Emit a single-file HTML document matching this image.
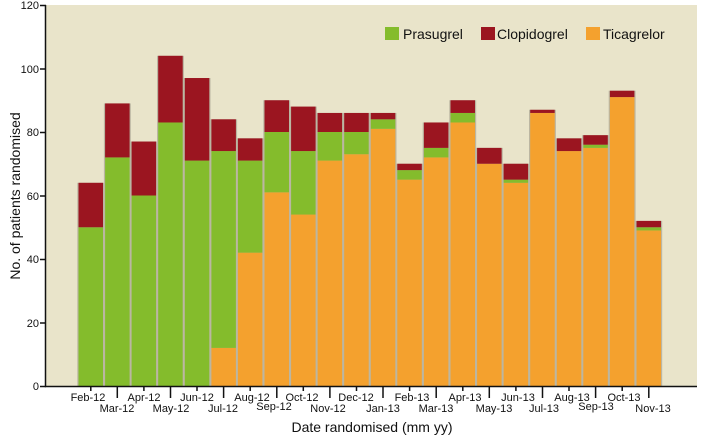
<!DOCTYPE html>
<html><head><meta charset="utf-8"><style>body{margin:0;background:#fff}svg{display:block}text{font-family:"Liberation Sans",sans-serif;fill:#111}</style></head><body>
<svg width="703" height="443" viewBox="0 0 703 443" xmlns="http://www.w3.org/2000/svg">
<rect x="46" y="5" width="651" height="381" fill="#e9e4ca"/>
<g transform="translate(0,386) scale(1,-3.175)">
<g fill="#bbb6a2">
<rect x="77.3" y="0" width="26.9" height="64"/><rect x="103.9" y="0" width="26.9" height="89"/><rect x="130.4" y="0" width="26.9" height="77"/><rect x="157" y="0" width="26.9" height="104"/><rect x="183.6" y="0" width="26.9" height="97"/><rect x="210.2" y="0" width="26.9" height="84"/><rect x="236.7" y="0" width="26.9" height="78"/><rect x="263.3" y="0" width="26.9" height="90"/><rect x="289.9" y="0" width="26.9" height="88"/><rect x="316.4" y="0" width="26.9" height="86"/><rect x="343" y="0" width="26.9" height="86"/><rect x="369.6" y="0" width="26.9" height="86"/><rect x="396.1" y="0" width="26.9" height="70"/><rect x="422.7" y="0" width="26.9" height="83"/><rect x="449.3" y="0" width="26.9" height="90"/><rect x="475.9" y="0" width="26.9" height="75"/><rect x="502.4" y="0" width="26.9" height="70"/><rect x="529" y="0" width="26.9" height="87"/><rect x="555.6" y="0" width="26.9" height="78"/><rect x="582.1" y="0" width="26.9" height="79"/><rect x="608.7" y="0" width="26.9" height="93"/><rect x="635.3" y="0" width="26.9" height="52"/>
</g>
<g fill="#f4a12e">
<rect x="211.4" y="0" width="24.5" height="12"/><rect x="237.9" y="0" width="24.5" height="42"/><rect x="264.5" y="0" width="24.5" height="61"/><rect x="291.1" y="0" width="24.5" height="54"/><rect x="317.6" y="0" width="24.5" height="71"/><rect x="344.2" y="0" width="24.5" height="73"/><rect x="370.8" y="0" width="24.5" height="81"/><rect x="397.3" y="0" width="24.5" height="65"/><rect x="423.9" y="0" width="24.5" height="72"/><rect x="450.5" y="0" width="24.5" height="83"/><rect x="477.1" y="0" width="24.5" height="70"/><rect x="503.6" y="0" width="24.5" height="64"/><rect x="530.2" y="0" width="24.5" height="86"/><rect x="556.8" y="0" width="24.5" height="74"/><rect x="583.3" y="0" width="24.5" height="75"/><rect x="609.9" y="0" width="24.5" height="91"/><rect x="636.5" y="0" width="24.5" height="49"/>
</g>
<g fill="#84bc2c">
<rect x="78.5" y="0" width="24.5" height="50"/><rect x="105.1" y="0" width="24.5" height="72"/><rect x="131.6" y="0" width="24.5" height="60"/><rect x="158.2" y="0" width="24.5" height="83"/><rect x="184.8" y="0" width="24.5" height="71"/><rect x="211.4" y="12" width="24.5" height="62"/><rect x="237.9" y="42" width="24.5" height="29"/><rect x="264.5" y="61" width="24.5" height="19"/><rect x="291.1" y="54" width="24.5" height="20"/><rect x="317.6" y="71" width="24.5" height="9"/><rect x="344.2" y="73" width="24.5" height="7"/><rect x="370.8" y="81" width="24.5" height="3"/><rect x="397.3" y="65" width="24.5" height="3"/><rect x="423.9" y="72" width="24.5" height="3"/><rect x="450.5" y="83" width="24.5" height="3"/><rect x="503.6" y="64" width="24.5" height="1"/><rect x="583.3" y="75" width="24.5" height="1"/><rect x="636.5" y="49" width="24.5" height="1"/>
</g>
<g fill="#9b1520">
<rect x="78.5" y="50" width="24.5" height="14"/><rect x="105.1" y="72" width="24.5" height="17"/><rect x="131.6" y="60" width="24.5" height="17"/><rect x="158.2" y="83" width="24.5" height="21"/><rect x="184.8" y="71" width="24.5" height="26"/><rect x="211.4" y="74" width="24.5" height="10"/><rect x="237.9" y="71" width="24.5" height="7"/><rect x="264.5" y="80" width="24.5" height="10"/><rect x="291.1" y="74" width="24.5" height="14"/><rect x="317.6" y="80" width="24.5" height="6"/><rect x="344.2" y="80" width="24.5" height="6"/><rect x="370.8" y="84" width="24.5" height="2"/><rect x="397.3" y="68" width="24.5" height="2"/><rect x="423.9" y="75" width="24.5" height="8"/><rect x="450.5" y="86" width="24.5" height="4"/><rect x="477.1" y="70" width="24.5" height="5"/><rect x="503.6" y="65" width="24.5" height="5"/><rect x="530.2" y="86" width="24.5" height="1"/><rect x="556.8" y="74" width="24.5" height="4"/><rect x="583.3" y="76" width="24.5" height="3"/><rect x="609.9" y="91" width="24.5" height="2"/><rect x="636.5" y="50" width="24.5" height="2"/>
</g>
</g>
<g stroke="#111" stroke-width="1.5" fill="none">
<path d="M45.5 5V386.5H697"/>
<path d="M40 386.5h6M40 323h6M40 259.5h6M40 196h6M40 132.5h6M40 69h6M40 5.5h6"/>
<path d="M90.8 386v5M143.9 386v5M197 386v5M250.2 386v5M303.3 386v5M356.5 386v5M409.6 386v5M462.8 386v5M515.9 386v5M569 386v5M622.2 386v5"/>
<path d="M117.3 386v12M170.5 386v12M223.6 386v12M276.8 386v12M329.9 386v12M383 386v12M436.2 386v12M489.3 386v12M542.5 386v12M595.6 386v12M648.8 386v12"/>
</g>
<g font-size="11" text-anchor="end">
<text x="39" y="390">0</text><text x="39" y="327">20</text><text x="39" y="263">40</text><text x="39" y="200">60</text><text x="39" y="136">80</text><text x="39" y="73">100</text><text x="39" y="9">120</text>
</g>
<g font-size="11" text-anchor="middle">
<text x="88" y="401">Feb-12</text><text x="117" y="412">Mar-12</text><text x="144" y="401">Apr-12</text><text x="171" y="412">May-12</text><text x="197" y="401">Jun-12</text><text x="223" y="412">Jul-12</text><text x="252" y="401">Aug-12</text><text x="274" y="410">Sep-12</text><text x="302" y="401">Oct-12</text><text x="328" y="412">Nov-12</text><text x="356" y="401">Dec-12</text><text x="383" y="412">Jan-13</text><text x="412" y="401">Feb-13</text><text x="436" y="412">Mar-13</text><text x="465" y="401">Apr-13</text><text x="494" y="412">May-13</text><text x="518" y="401">Jun-13</text><text x="544" y="412">Jul-13</text><text x="572" y="401">Aug-13</text><text x="596" y="410">Sep-13</text><text x="624" y="401">Oct-13</text><text x="653" y="412">Nov-13</text>
</g>
<text x="372" y="432" font-size="14" text-anchor="middle">Date randomised (mm yy)</text>
<text transform="translate(20,196) rotate(-90)" font-size="14" text-anchor="middle">No. of patients randomised</text>
<rect x="385" y="27" width="14" height="13" fill="#84bc2c"/><text x="403" y="39" font-size="14">Prasugrel</text>
<rect x="481" y="27" width="14" height="13" fill="#9b1520"/><text x="497" y="39" font-size="14">Clopidogrel</text>
<rect x="586" y="27" width="14" height="13" fill="#f4a12e"/><text x="603" y="39" font-size="14">Ticagrelor</text>
</svg>
</body></html>
